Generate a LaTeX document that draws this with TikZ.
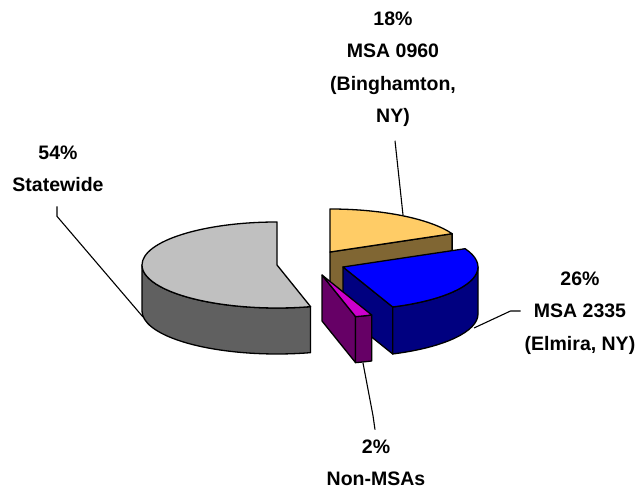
\documentclass[tikz,border=0pt]{standalone}
\usepackage{fontspec}
\setmainfont{Liberation Sans}
\usetikzlibrary{calc}

\definecolor{graytop}{HTML}{C0C0C0}
\definecolor{grayside}{HTML}{606060}
\definecolor{yellowtop}{HTML}{FFCC66}
\definecolor{yellowside}{HTML}{806633}
\definecolor{bluetop}{HTML}{0000FF}
\definecolor{blueside}{HTML}{000080}
\definecolor{magtop}{HTML}{CC00CC}
\definecolor{magside}{HTML}{660066}

\tikzset{
  face/.style={draw=black, line width=1.3pt, line join=round},
  lbl/.style={font=\fontsize{19.5}{32.5}\selectfont\bfseries, align=center, inner sep=0pt},
  leader/.style={draw=black, line width=1.1pt},
}

\begin{document}
\begin{tikzpicture}[x=1pt, y=1pt, x radius=135pt, y radius=43pt]
    \useasboundingbox (0,0) rectangle (641,490);

    % slice centres (apex of each wedge)
    \coordinate (yl) at (330,238);
    \coordinate (gr) at (277,225);
    \coordinate (bl) at (343,223);
    \coordinate (mg) at (322,215);

    % MSA 0960 wedge (back)
    \draw[face, fill=yellowside] (yl) -- ++(25.2:135pt and 43pt) -- ++(0,-46) -- ++(205.2:135pt and 43pt) -- cycle;
    \draw[face, fill=yellowtop] (yl) -- ++(90:135pt and 43pt) arc[start angle=90, end angle=25.2] -- cycle;

    % Statewide wedge
    \draw[face, fill=grayside] (gr) ++(180:135pt and 43pt) arc[start angle=180, end angle=284.4] -- ++(0,-46) arc[start angle=284.4, end angle=180] -- cycle;
    \draw[face, fill=graytop] (gr) -- ++(90:135pt and 43pt) arc[start angle=90, end angle=284.4] -- cycle;

    % MSA 2335 wedge
    \draw[face, fill=blueside] (bl) -- ++(-68.4:135pt and 43pt) -- ++(0,-47) -- ++(111.6:135pt and 43pt) -- cycle;
    \draw[face, fill=blueside] (bl) ++(-68.4:135pt and 43pt) arc[start angle=-68.4, end angle=0] -- ++(0,-47) arc[start angle=0, end angle=-68.4] -- cycle;
    \draw[face, fill=bluetop] (bl) -- ++(-68.4:135pt and 43pt) arc[start angle=-68.4, end angle=25.2] -- cycle;

    % Non-MSAs wedge (front)
    \draw[face, fill=magside] (mg) -- ++(-75.6:135pt and 43pt) -- ++(0,-46) -- ++(104.4:135pt and 43pt) -- cycle;
    \draw[face, fill=magside] (mg) ++(-75.6:135pt and 43pt) arc[start angle=-75.6, end angle=-68.4] -- ++(0,-46) arc[start angle=-68.4, end angle=-75.6] -- cycle;
    \draw[face, fill=magtop] (mg) -- ++(-75.6:135pt and 43pt) arc[start angle=-75.6, end angle=-68.4] -- cycle;

    % labels
    \node[lbl] (swlbl) at (58,321) {54\%\\Statewide};
    \node[lbl] (yllbl) at (393,421) {18\%\\MSA 0960\\(Binghamton,\\NY)};
    \node[lbl] (bllbl) at (580,177) {26\%\\MSA 2335\\(Elmira, NY)};
    \node[lbl] (mglbl) at (376,27) {2\%\\Non-MSAs};

    % leader ends on the wedges
    \coordinate (swtip) at (143,173);
    \coordinate (yltip) at (403,275);
    \coordinate (bltip) at (474,162);
    \coordinate (mgtip) at (363,127);

    % leaders
    \draw[leader] (swlbl.south) ++(-1,-14) -- ++(0,-10) -- (swtip);
    \draw[leader] (yllbl.south) ++(2,-14) -- (yltip);
    \draw[leader] (bllbl.west) ++(-4,2) -- ++(-10,0) -- (bltip);
    \draw[leader] (mglbl.north) ++(-1,10) -- ++(-2,14) -- (mgtip);
\end{tikzpicture}
\end{document}
